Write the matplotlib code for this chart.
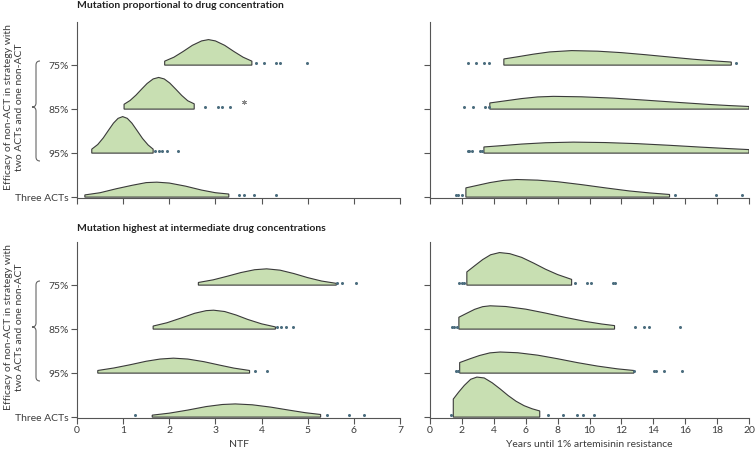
import numpy as np
import matplotlib.pyplot as plt
from matplotlib.path import Path
from matplotlib.patches import PathPatch

plt.rcParams['font.family'] = ['Lato', 'DejaVu Sans']

categories = ["Three ACTs", "95%", "85%", "75%"]

# --- density outlines: (x values, heights) ---
# top left: NTF, mutation proportional to drug concentration
ntf_prop = {
    "75%": ([1.90, 2.1, 2.3, 2.5, 2.7, 2.85, 3.0, 3.2, 3.4, 3.6, 3.79],
            [0.09, 0.18, 0.31, 0.45, 0.55, 0.58, 0.55, 0.45, 0.31, 0.18, 0.09]),
    "85%": ([1.02, 1.15, 1.28, 1.4, 1.52, 1.65, 1.77, 1.89, 2.01, 2.14, 2.27, 2.4, 2.54],
            [0.11, 0.196, 0.32, 0.454, 0.583, 0.686, 0.72, 0.686, 0.593, 0.454, 0.31, 0.19, 0.12]),
    "95%": ([0.32, 0.45, 0.57, 0.68, 0.79, 0.89, 0.99, 1.09, 1.19, 1.3, 1.42, 1.54, 1.65],
            [0.09, 0.196, 0.347, 0.516, 0.681, 0.79, 0.83, 0.79, 0.681, 0.516, 0.333, 0.186, 0.09]),
    "Three ACTs": ([0.17, 0.5, 0.85, 1.2, 1.5, 1.73, 2.0, 2.35, 2.7, 3.0, 3.29],
                   [0.05, 0.10, 0.19, 0.27, 0.33, 0.34, 0.32, 0.25, 0.16, 0.10, 0.07]),
}
# top right: years to resistance, mutation proportional
yrs_prop = {
    "75%": ([4.63, 5.5, 6.5, 7.5, 8.88, 10.5, 12, 13.5, 15, 16.5, 18, 18.89],
            [0.14, 0.19, 0.25, 0.30, 0.33, 0.317, 0.284, 0.237, 0.185, 0.134, 0.091, 0.07]),
    "85%": ([3.75, 4.75, 5.75, 6.75, 7.74, 9.5, 11.5, 13.5, 15.5, 17.5, 18.75, 20],
            [0.14, 0.19, 0.24, 0.277, 0.29, 0.28, 0.25, 0.204, 0.154, 0.106, 0.081, 0.06]),
    "95%": ([3.38, 4.5, 5.75, 7.25, 8.99, 11, 13, 15, 17, 18.5, 20],
            [0.14, 0.17, 0.206, 0.236, 0.25, 0.24, 0.215, 0.178, 0.136, 0.107, 0.08]),
    "Three ACTs": ([2.25, 3.0, 3.75, 4.6, 5.44, 6.75, 8.0, 9.5, 11, 12.5, 13.75, 15.02],
                   [0.21, 0.27, 0.33, 0.38, 0.40, 0.386, 0.35, 0.284, 0.21, 0.14, 0.096, 0.06]),
}
# bottom left: NTF, mutation highest at intermediate concentrations
ntf_inter = {
    "75%": ([2.63, 2.95, 3.25, 3.55, 3.85, 4.11, 4.4, 4.7, 5.0, 5.3, 5.62],
            [0.06, 0.12, 0.20, 0.285, 0.35, 0.37, 0.34, 0.263, 0.17, 0.093, 0.04]),
    "85%": ([1.65, 1.95, 2.25, 2.55, 2.8, 2.96, 3.2, 3.45, 3.7, 4.0, 4.30],
            [0.07, 0.145, 0.25, 0.36, 0.42, 0.43, 0.40, 0.32, 0.22, 0.12, 0.05]),
    "95%": ([0.45, 0.8, 1.15, 1.5, 1.8, 2.09, 2.4, 2.75, 3.1, 3.4, 3.74],
            [0.06, 0.117, 0.19, 0.27, 0.32, 0.34, 0.32, 0.26, 0.18, 0.114, 0.06]),
    "Three ACTs": ([1.63, 2.0, 2.4, 2.8, 3.15, 3.43, 3.8, 4.2, 4.6, 4.95, 5.28],
                   [0.045, 0.09, 0.16, 0.24, 0.287, 0.30, 0.28, 0.227, 0.158, 0.10, 0.06]),
}
# bottom right: years to resistance, intermediate
yrs_inter = {
    "75%": ([2.31, 2.8, 3.3, 3.8, 4.36, 5.0, 5.75, 6.5, 7.25, 8.0, 8.88],
            [0.30, 0.44, 0.58, 0.69, 0.74, 0.715, 0.63, 0.50, 0.36, 0.24, 0.13]),
    "85%": ([1.81, 2.3, 2.8, 3.3, 3.77, 4.75, 6.0, 7.25, 8.5, 9.75, 10.75, 11.57],
            [0.27, 0.36, 0.45, 0.51, 0.53, 0.514, 0.454, 0.364, 0.265, 0.175, 0.117, 0.08]),
    "95%": ([1.86, 2.5, 3.1, 3.75, 4.40, 5.5, 6.75, 8.0, 9.25, 10.5, 11.75, 12.78],
            [0.24, 0.325, 0.40, 0.46, 0.48, 0.463, 0.408, 0.327, 0.238, 0.16, 0.097, 0.06]),
    "Three ACTs": ([1.46, 1.8, 2.15, 2.55, 2.94, 3.4, 3.9, 4.4, 4.9, 5.4, 5.9, 6.4, 6.88],
                   [0.41, 0.57, 0.72, 0.86, 0.91, 0.89, 0.78, 0.64, 0.49, 0.36, 0.26, 0.19, 0.14]),
}

# --- outlier points ---
out_ntf_prop = {"75%": [3.88, 4.06, 4.31, 4.40, 4.99], "85%": [2.78, 3.05, 3.15, 3.32],
                "95%": [1.70, 1.77, 1.84, 1.95, 2.18], "Three ACTs": [3.52, 3.63, 3.84, 4.31]}
star_ntf_prop = 3.61  # the small asterisk on the 85% row
out_yrs_prop = {"75%": [2.36, 2.86, 3.36, 3.69, 19.17], "85%": [2.15, 2.67, 3.42, 3.67],
                "95%": [2.36, 2.46, 2.61, 3.11, 3.23],
                "Three ACTs": [1.61, 1.73, 2.02, 15.37, 17.94, 19.58]}
out_ntf_inter = {"75%": [5.64, 5.74, 6.05], "85%": [4.33, 4.42, 4.53, 4.68],
                 "95%": [3.86, 4.11], "Three ACTs": [1.26, 5.42, 5.90, 6.23]}
out_yrs_inter = {"75%": [1.84, 2.02, 2.15, 9.09, 9.82, 10.11, 11.49, 11.60],
                 "85%": [1.36, 1.52, 1.69, 12.85, 13.39, 13.70, 15.68],
                 "95%": [1.65, 1.77, 12.80, 14.04, 14.16, 14.70, 15.83],
                 "Three ACTs": [1.33, 7.38, 8.32, 9.20, 9.59, 10.26]}

FILL = '#c8dfb2'
EDGE = '#3a3a3a'
DOT = '#4b6d7e'
AXC = '#555555'
TXT = '#3c3c3c'

W, H = 755, 451
fig = plt.figure(figsize=(W / 100, H / 100), dpi=100)


def fx(px):
    return px / W


def fy(py):
    return 1 - py / H


def make_ax(left, right, top, bottom):
    return fig.add_axes([fx(left), fy(bottom), fx(right) - fx(left), fy(top) - fy(bottom)])


def draw_panel(ax, curves, outliers, xmax, xstep, ylabels, xlabels):
    for i, cat in enumerate(categories):
        xs, hs = curves[cat]
        px = [xs[0]] + list(xs) + [xs[-1], xs[0]]
        py = [i] + [i + h for h in hs] + [i, i]
        ax.fill(px, py, facecolor=FILL, edgecolor=EDGE, lw=0.8, zorder=2)
        pts = outliers[cat]
        ax.plot(pts, np.full(len(pts), i + 0.04), 'o', ms=2.2, color=DOT,
                mec='none', zorder=3, clip_on=False)

    ax.set_xlim(0, xmax)
    ax.set_ylim(-0.02, 3.98)
    ax.set_xticks(np.arange(0, xmax + 0.1, xstep))
    ax.set_yticks(range(len(categories)))
    for s in ['top', 'right']:
        ax.spines[s].set_visible(False)
    for s in ['left', 'bottom']:
        ax.spines[s].set_color(AXC)
        ax.spines[s].set_linewidth(0.8)
    ax.tick_params(colors=AXC, labelcolor=TXT, labelsize=7.5, length=4, width=0.8, pad=2)
    ax.set_yticklabels(categories if ylabels else [])
    if not xlabels:
        ax.set_xticklabels([])


ax_tl = make_ax(77, 400, 22, 198)
ax_tr = make_ax(430, 749, 22, 198)
ax_bl = make_ax(77, 400, 242, 418)
ax_br = make_ax(430, 749, 242, 418)

draw_panel(ax_tl, ntf_prop, out_ntf_prop, 7, 1, True, False)
draw_panel(ax_tr, yrs_prop, out_yrs_prop, 20, 2, False, False)
draw_panel(ax_bl, ntf_inter, out_ntf_inter, 7, 1, True, True)
draw_panel(ax_br, yrs_inter, out_yrs_inter, 20, 2, False, True)

ax_tl.plot([star_ntf_prop], [2.16], marker=(6, 2, 0), ms=3.5, color='#888888', mew=0.6)

ax_bl.set_xlabel("NTF", fontsize=7.5, color=TXT, labelpad=3.5)
ax_br.set_xlabel("Years until 1% artemisinin resistance", fontsize=7.5, color=TXT, labelpad=3.5)

fig.text(fx(77), fy(1.5), "Mutation proportional to drug concentration",
         fontsize=7.5, fontweight='bold', color='#222222', ha='left', va='top')
fig.text(fx(77), fy(223.5), "Mutation highest at intermediate drug concentrations",
         fontsize=7.5, fontweight='bold', color='#222222', ha='left', va='top')

# braces and rotated group labels
for off in (0, 220):
    top, mid, bot = 61 + off, 107 + off, 161 + off
    x1, xm, x0, r = 40, 36, 32, 4
    verts = [(x1, top), (xm, top), (xm, top + r), (xm, mid - r), (xm, mid), (x0, mid),
             (xm, mid), (xm, mid + r), (xm, bot - r), (xm, bot), (x1, bot)]
    codes = [Path.MOVETO, Path.CURVE3, Path.CURVE3, Path.LINETO, Path.CURVE3, Path.CURVE3,
             Path.CURVE3, Path.CURVE3, Path.LINETO, Path.CURVE3, Path.CURVE3]
    path = Path([(fx(a), fy(b)) for a, b in verts], codes)
    fig.add_artist(PathPatch(path, transform=fig.transFigure, fill=False,
                             edgecolor='#666666', lw=0.8))
    fig.text(fx(14), fy(107 + off),
             "Efficacy of non-ACT in strategy with\ntwo ACTs and one non-ACT",
             rotation=90, fontsize=7.5, color=TXT, ha='center', va='center',
             multialignment='center', linespacing=1.15)

fig.savefig('out.png', dpi=100)
